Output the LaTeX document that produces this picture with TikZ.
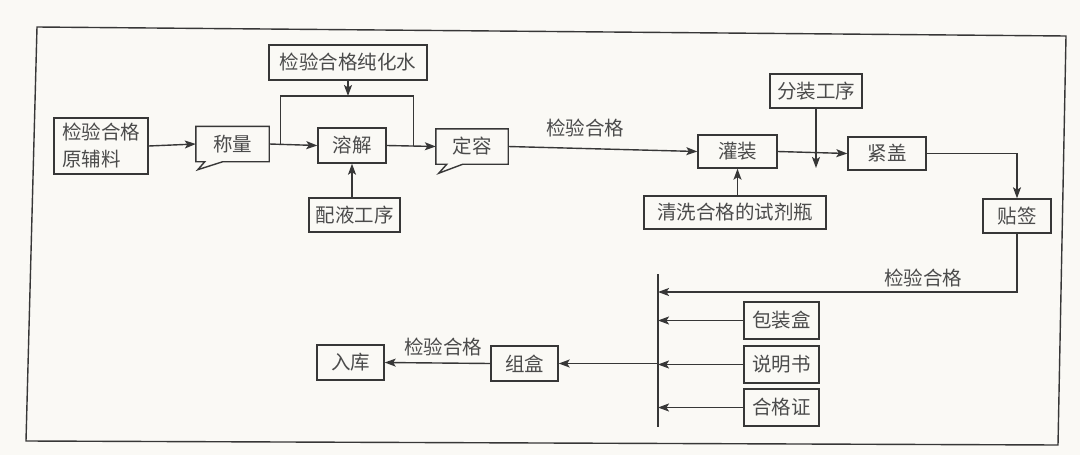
\documentclass[tikz,border=0pt]{standalone}
\usepackage{fontspec}
\newfontfamily\cjkfont{Noto Sans CJK SC}
\usetikzlibrary{arrows.meta,calc}
\definecolor{bgc}{RGB}{250,249,245}
\definecolor{linec}{RGB}{55,55,55}
\definecolor{textc}{RGB}{75,75,75}
\begin{document}
\begin{tikzpicture}[x=1pt,y=-1pt,
  box/.style={draw=linec,line width=1.4pt,inner sep=0pt,text=textc,
    font=\cjkfont\fontsize{19.5}{27}\selectfont},
  callout/.style={draw=none,inner sep=0pt,text=textc,
    font=\cjkfont\fontsize{19.5}{27}\selectfont},
  lbl/.style={inner sep=0pt,text=textc,font=\cjkfont\fontsize{19.5}{23}\selectfont},
  conn/.style={draw=linec,line width=1.4pt},
  arr/.style={conn,-{Stealth[length=11pt,width=8pt,inset=2.5pt]}},
  frame/.style={draw=linec,line width=1.4pt}]
\useasboundingbox (0,0) rectangle (1080,455);
\fill[bgc] (0,0) rectangle (1080,455);
% outer frame
\coordinate (f1) at (37,27);
\coordinate (f2) at (1066,36);
\coordinate (f3) at (1058,445);
\coordinate (f4) at (26,441);
\draw[frame] (f1) -- (f2) -- (f3) -- (f4) -- cycle;

% top row
\node[box,minimum width=94pt,minimum height=56pt,align=left] (raw) at (101,146) {检验合格\\原辅料};
\node[callout,minimum width=73pt,minimum height=35pt] (weigh) at (232.5,144) {称量};
\node[box,minimum width=158pt,minimum height=35pt] (water) at (348,62.5) {检验合格纯化水};
\node[box,minimum width=68pt,minimum height=35pt] (dissolve) at (352,145.5) {溶解};
\node[box,minimum width=91pt,minimum height=34pt] (peiye) at (354.5,215) {配液工序};
\node[callout,minimum width=72pt,minimum height=35pt] (dingrong) at (472,146.5) {定容};
\node[box,minimum width=79pt,minimum height=33pt] (guan) at (737.5,151.5) {灌装};
\node[box,minimum width=92pt,minimum height=34pt] (fenzhuang) at (816,91) {分装工序};
\node[box,minimum width=78pt,minimum height=33pt] (jingai) at (887,153.5) {紧盖};
\node[box,minimum width=182pt,minimum height=33pt] (qingxi) at (735,212.5) {清洗合格的试剂瓶};
\node[box,minimum width=68pt,minimum height=34pt] (tieqian) at (1017,216) {贴签};

% bottom rows
\node[box,minimum width=75pt,minimum height=37pt] (bzh) at (781.5,320.5) {包装盒};
\node[box,minimum width=75pt,minimum height=37pt] (sms) at (781.5,364.5) {说明书};
\node[box,minimum width=75pt,minimum height=37pt] (hgz) at (781.5,407.5) {合格证};
\node[box,minimum width=67pt,minimum height=35pt] (zuhe) at (524.5,363.5) {组盒};
\node[box,minimum width=67pt,minimum height=35pt] (ruku) at (350.5,362.5) {入库};

% callout outlines
\draw[conn] (weigh.north west) -- (weigh.north east) -- (weigh.south east)
  -- ($(weigh.south west)+(27,0)$) -- ($(weigh.south west)+(2,8)$)
  -- ($(weigh.south west)+(9,0)$) -- (weigh.south west) -- cycle;
\draw[conn] (dingrong.north west) -- (dingrong.north east) -- (dingrong.south east)
  -- ($(dingrong.south west)+(27,0)$) -- ($(dingrong.south west)+(3,9)$)
  -- ($(dingrong.south west)+(11,0)$) -- (dingrong.south west) -- cycle;

% connectors top row
\draw[arr] (raw.east) -- (weigh.west);
\draw[arr] (weigh.east) -- (dissolve.west);
\coordinate (j1) at ($(weigh.east)+(11,0.5)$);
\coordinate (j2) at ($(dissolve.east)!0.55!(dingrong.west)$);
\coordinate (looptop) at (280,96);
\draw[conn] (j1) -- (j1 |- looptop) -- (j2 |- looptop) -- (j2);
\draw[arr] (water.south) -- (water.south |- looptop);
\draw[arr] (peiye.north -| dissolve.south) -- (dissolve.south);
\draw[arr] (dissolve.east) -- (dingrong.west);
\draw[arr] (dingrong.east) -- (guan.west);
\node[lbl] (lbl1) at (585,128) {检验合格};
\draw[arr] (qingxi.north -| guan.south) -- (guan.south);
\draw[arr] (guan.east) -- (jingai.west);
\coordinate (fz) at (816,168);
\draw[arr] (fenzhuang.south) -- (fz);
\draw[arr] (jingai.east) -| (tieqian.north);

% collection bar
\coordinate (bartop) at (658,274);
\coordinate (barbot) at (658,427);
\draw[conn] (bartop) -- (barbot);
\coordinate (tq) at (1017,292);
\draw[arr] (tieqian.south) -- (tq) -- (tq -| bartop);
\node[lbl] (lbl2) at (923,278) {检验合格};
\draw[arr] (bzh.west) -- (bzh.west -| bartop);
\draw[arr] (sms.west) -- (sms.west -| bartop);
\draw[arr] (hgz.west) -- (hgz.west -| bartop);
\draw[arr] (zuhe.east -| bartop) -- (zuhe.east);
\draw[arr] (zuhe.west) -- (ruku.east);
\node[lbl] (lbl3) at (443,347) {检验合格};
\end{tikzpicture}
\end{document}
